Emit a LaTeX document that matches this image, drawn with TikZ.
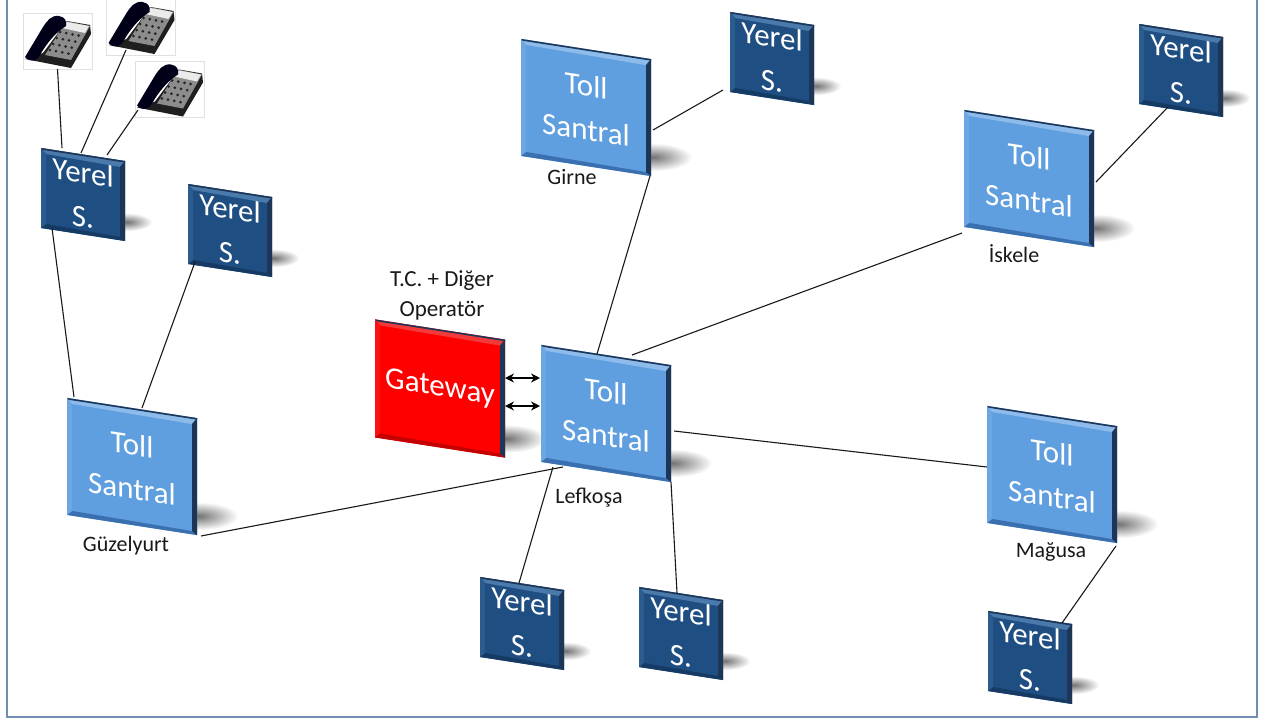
\documentclass[tikz,border=0pt]{standalone}
\usepackage{fontspec}
\setmainfont{Carlito}
\usetikzlibrary{calc,arrows.meta}
\definecolor{framec}{HTML}{6F8FB0}
\definecolor{tollc}{HTML}{5F9EDF}
\definecolor{tolltop}{HTML}{8DBBEB}
\definecolor{tollbot}{HTML}{3A6FB0}
\definecolor{yerelc}{HTML}{1F4E82}
\definecolor{yereltop}{HTML}{4A7AAB}
\definecolor{yerelbot}{HTML}{153A63}
\definecolor{gatec}{HTML}{FF0000}
\definecolor{gatetop}{HTML}{F23A3A}
\definecolor{gatebot}{HTML}{C40000}
\definecolor{edgec}{HTML}{1D3557}
\tikzset{
  link/.style={draw=black!90,line width=1.1pt},
  dbl/.style={draw=black,line width=2pt,{Stealth[length=9pt,width=9pt]}-{Stealth[length=9pt,width=9pt]}},
  caption/.style={font=\fontsize{22}{26}\selectfont,text=black!90,align=center,inner sep=0pt},
  panel/.style={yslant=-0.155,inner sep=0pt,outer sep=0pt,align=center,text=white,
    font=\fontsize{#1}{44}\selectfont},
  phonebox/.style={draw=black!12,line width=.6pt,fill=white,minimum width=69pt,minimum height=56pt,inner sep=0pt,outer sep=0pt},
}
% #1 name #2 cx #3 cy #4 w #5 h #6 colour prefix #7 font size #8 text
\newcommand\panelbox[8]{
  \shade[inner color=black!55,outer color=white,shift={(#2+#4*0.5+2,#3+#5*0.5+#4*0.155*0.5-19)},yscale=0.36]
     (0,0) circle [radius=#4*0.3pt];
  \node[panel=#7,fill=#6c,minimum width=#4 pt,minimum height=#5 pt] (#1) at (#2,#3) {#8};
  \fill[#6top] (#1.north west) -- (#1.north east) -- ($(#1.north east)+(-5,6)$) -- ($(#1.north west)+(5,6)$) -- cycle;
  \fill[edgec] (#1.north west) -- (#1.north east) -- ($(#1.north east)+(0,1.6)$) -- ($(#1.north west)+(0,1.6)$) -- cycle;
  \fill[#6bot] (#1.south west) -- (#1.south east) -- ($(#1.south east)+(-5,-4)$) -- ($(#1.south west)+(5,-4)$) -- cycle;
  \fill[edgec] (#1.north east) -- (#1.south east) -- ($(#1.south east)+(-5,-4)$) -- ($(#1.north east)+(-5,6)$) -- cycle;
  \fill[#6c!70!#6top] (#1.north west) -- (#1.south west) -- ($(#1.south west)+(5,-4)$) -- ($(#1.north west)+(5,6)$) -- cycle;
}
% #1 name #2 cx #3 cy
\newcommand\phonepic[3]{
  \node[phonebox] (#1) at (#2,#3) {};
  \begin{scope}[shift={($(#1.north west)$)}]
    \fill[black!88] (2,46) -- (48,55) -- (68,21) -- (67,12) -- (44,8) -- (20,40) -- cycle;
    \fill[black!45] (43,8) -- (67,13) -- (48,47) -- (22,42) -- cycle;
    \fill[black!8] (44,9) -- (66,13) -- (62,20) -- (39,15) -- cycle;
    \foreach \r in {0,1,2,3} \foreach \c in {0,1,2,3}
      \fill[black!85] ({37+\c*6.2-\r*3.4},{19+\c*1.2+\r*6}) circle (1.5pt);
    \fill[black!90!blue] (2,44) .. controls (8,50) and (14,48) .. (17,42)
       .. controls (24,30) and (32,20) .. (43,13) .. controls (44,8) and (42,4) .. (36,3)
       .. controls (28,2) and (24,8) .. (20,14) .. controls (14,24) and (8,34) .. (2,44) -- cycle;
  \end{scope}
}
\begin{document}
\begin{tikzpicture}[x=1pt,y=-1pt]
\useasboundingbox (0,0) rectangle (1265,720);
\fill[white] (0,0) rectangle (1265,720);
\draw[framec,line width=2pt] (7,-2) -- (7,717) -- (1257,717) -- (1257,-2);

\phonepic{pa}{57.5}{41}
\phonepic{pb}{141}{27}
\phonepic{pc}{169.5}{89.5}

\panelbox{Gi}{586}{107.5}{130}{117}{toll}{31}{Toll\\Santral}
\panelbox{Is}{1029}{178.5}{130}{117}{toll}{31}{Toll\\Santral}
\panelbox{Ma}{1052}{474.5}{130}{117}{toll}{31}{Toll\\Santral}
\panelbox{Gu}{132}{466.5}{130}{117}{toll}{31}{Toll\\Santral}
\panelbox{GW}{440}{388.5}{130}{118}{gate}{31}{Gateway}
\panelbox{Ce}{606}{413.5}{130}{117}{toll}{31}{Toll\\Santral}
\panelbox{Ya}{83}{194.5}{84}{80}{yerel}{31}{Yerel\\S.}
\panelbox{Yb}{230}{230.5}{84}{80}{yerel}{31}{Yerel\\S.}
\panelbox{Yc}{772}{58.5}{84}{80}{yerel}{31}{Yerel\\S.}
\panelbox{Yd}{1181}{70.5}{84}{80}{yerel}{31}{Yerel\\S.}
\panelbox{Ye}{522}{623.5}{84}{80}{yerel}{31}{Yerel\\S.}
\panelbox{Yf}{681}{633.5}{84}{80}{yerel}{31}{Yerel\\S.}
\panelbox{Yg}{1030}{657.5}{84}{80}{yerel}{31}{Yerel\\S.}

\draw[link] ([shift={(0,28)}]pa.center) -- ([shift={(-21,-46.5)}]Ya.center);
\draw[link] ([shift={(-15,23)}]pb.center) -- ([shift={(-2,-41.5)}]Ya.center);
\draw[link] ([shift={(-31.5,20.5)}]pc.center) -- ([shift={(24,-39.5)}]Ya.center);
\draw[link] ([shift={(-31,33.5)}]Ya.center) -- ([shift={(-58,-69.5)}]Gu.center);
\draw[link] ([shift={(-35,31.5)}]Yb.center) -- ([shift={(10,-58.5)}]Gu.center);
\draw[link] ([shift={(69,69.5)}]Gu.center) -- ([shift={(-43,53.5)}]Ce.center);
\draw[link] ([shift={(-9,-59.5)}]Ce.center) -- ([shift={(64,68.5)}]Gi.center);
\draw[link] ([shift={(26,-58.5)}]Ce.center) -- ([shift={(-67,54.5)}]Is.center);
\draw[link] ([shift={(68,17.5)}]Ce.center) -- ([shift={(-65,-7.5)}]Ma.center);
\draw[link] ([shift={(-53,53.5)}]Ce.center) -- ([shift={(-3,-40.5)}]Ye.center);
\draw[link] ([shift={(65,68.5)}]Ce.center) -- ([shift={(-4,-40.5)}]Yf.center);
\draw[link] ([shift={(64,71.5)}]Ma.center) -- ([shift={(32,-34.5)}]Yg.center);
\draw[link] ([shift={(67,22.5)}]Gi.center) -- ([shift={(-49,31.5)}]Yc.center);
\draw[link] ([shift={(67,3.5)}]Is.center) -- ([shift={(-13,36.5)}]Yd.center);
\draw[dbl] ([shift={(65,-10.5)}]GW.center) -- ([shift={(-66,-35.5)}]Ce.center);
\draw[dbl] ([shift={(65,17.5)}]GW.center) -- ([shift={(-66,-7.5)}]Ce.center);

\node[caption] (lGi) at (572,177) {Girne};
\node[caption] (lIs) at (1014,254) {İskele};
\node[caption] (lCe) at (589,498) {Lefkoşa};
\node[caption] (lGu) at (126,546) {Güzelyurt};
\node[caption] (lMa) at (1051,552) {Mağusa};
\node[caption,font=\fontsize{23}{30}\selectfont] (lGW) at (442,295) {T.C. + Diğer\\Operatör};
\end{tikzpicture}
\end{document}
